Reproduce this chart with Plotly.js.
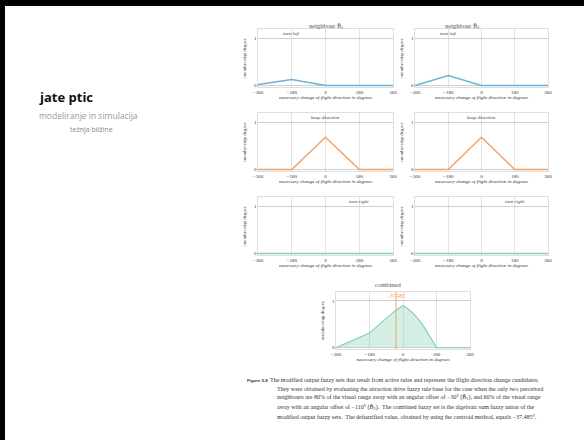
<!DOCTYPE html>
<html><head><meta charset="utf-8">
<script src="https://cdn.plot.ly/plotly-3.0.1.min.js"></script>
<style>html,body{margin:0;padding:0;background:#fff;}#c{width:584px;height:440px;}</style>
</head><body><div id="c"></div>
<script>
// ---- data ----
const xTicks = [-360, -180, 0, 180, 360];
const xTickLabels = ["\u2212360", "\u2212180", "0", "180", "360"];
const yTicks = [0, 1];
const yTickLabels = ["0", "1"];

const leftX = [-360, -180, 0, 360];
const left1Y = [0.02, 0.13, 0, 0];
const left2Y = [0.0, 0.21, 0, 0];

const keepX = [-360, -180, 0, 180, 360];
const keep1Y = [0, 0, 0.68, 0, 0];
const keep2Y = [0, 0, 0.68, 0, 0];

const rightX = [-360, 360];
const right1Y = [0, 0];
const right2Y = [0, 0];

const combX = [-360, -270, -180, -135, -90, -45, 0, 30, 60, 90, 120, 150, 180, 360];
const combY = [0, 0.16, 0.31, 0.47, 0.63, 0.78, 0.90, 0.82, 0.71, 0.57, 0.40, 0.21, 0, 0];

const defuzz = -37.485;
const defuzzLabel = "\u221237.485";

const setLabels = ["turn left", "keep direction", "turn right"];
const setLabelX = [-180, 0, 180];
const titles = ["neighbour B\u0302<sub>1</sub>", "neighbour B\u0302<sub>2</sub>", "combined"];

const captionHead = "Figure 5.8";
const captionLines = [
  "The modified output fuzzy sets that result from active rules and represent the flight direction change candidates.",
  "They were obtained by evaluating the attraction drive fuzzy rule base for the case when the only two perceived",
  "neighbours are 80% of the visual range away with an angular offset of \u221230\u00b0 (B\u0302<sub>1</sub>), and 60% of the visual range",
  "away with an angular offset of \u2212110\u00b0 (B\u0302<sub>2</sub>).  The combined fuzzy set is the algebraic sum fuzzy union of the",
  "modified output fuzzy sets.  The defuzzified value, obtained by using the centroid method, equals \u221237.485\u00b0."
];

// ---- layout helpers ----
const W = 584, H = 440;
const SERIF = "Liberation Serif, DejaVu Serif, serif";
const BLUE = "#6bb3da", ORANGE = "#f4a366", GREEN = "#88d1b3";
const YR = [-0.03, 1.19];

const panels = [
  {x0: 258, x1: 393, top: 29, bot: 87},
  {x0: 415, x1: 548, top: 29, bot: 87},
  {x0: 258, x1: 393, top: 113, bot: 171},
  {x0: 415, x1: 548, top: 113, bot: 171},
  {x0: 258, x1: 393, top: 197, bot: 255},
  {x0: 415, x1: 548, top: 197, bot: 255},
  {x0: 336, x1: 470, top: 292, bot: 349}
];

const layout = {
  width: W, height: H, margin: {l: 0, r: 0, t: 0, b: 0},
  paper_bgcolor: "#fff", plot_bgcolor: "#fff", showlegend: false,
  annotations: [], shapes: []
};

panels.forEach((p, i) => {
  const n = i + 1;
  const xa = n === 1 ? "xaxis" : "xaxis" + n;
  const ya = n === 1 ? "yaxis" : "yaxis" + n;
  layout[xa] = {
    domain: [p.x0 / W, p.x1 / W], anchor: "y" + n, range: [-360, 360],
    tickvals: xTicks, ticktext: xTickLabels, ticks: "", showgrid: true,
    gridcolor: "#dcdcdc", gridwidth: 0.8, zeroline: false,
    showline: true, linecolor: "#c8c8c8", linewidth: 0.6, mirror: true,
    tickfont: {family: SERIF, size: 5, color: "#333"}, ticklabelstandoff: 0,
    title: {text: "<i>necessary change of flight direction in degrees</i>",
            font: {family: SERIF, size: 5, color: "#333"}, standoff: 1},
    fixedrange: true
  };
  layout[ya] = {
    domain: [1 - p.bot / H, 1 - p.top / H], anchor: "x" + n, range: YR,
    tickvals: yTicks, ticktext: yTickLabels, ticks: "", showgrid: true,
    gridcolor: "#b0b0b0", gridwidth: 0.6, zeroline: false,
    showline: true, linecolor: "#c8c8c8", linewidth: 0.6, mirror: true,
    tickfont: {family: SERIF, size: 5, color: "#333"},
    title: {text: "membership degree", font: {family: SERIF, size: 5, color: "#333"}, standoff: 6},
    fixedrange: true
  };
  if (i < 6) {
    const li = Math.floor(i / 2);
    layout.annotations.push({
      xref: "x" + n, yref: "y" + n, x: setLabelX[li], y: 1.1, text: "<i>" + setLabels[li] + "</i>",
      showarrow: false, font: {family: SERIF, size: 5, color: "#444"}
    });
  }
});

// titles
layout.annotations.push({xref: "paper", yref: "paper", x: 326 / W, y: 1 - 20 / H, text: titles[0], showarrow: false, font: {family: SERIF, size: 6.5, color: "#555"}});
layout.annotations.push({xref: "paper", yref: "paper", x: 482 / W, y: 1 - 20 / H, text: titles[1], showarrow: false, font: {family: SERIF, size: 6.5, color: "#555"}});
layout.annotations.push({xref: "paper", yref: "paper", x: 403 / W, y: 1 - 284 / H, text: titles[2], showarrow: false, font: {family: SERIF, size: 6.5, color: "#555"}});
// defuzz label
layout.annotations.push({xref: "x7", yref: "y7", x: defuzz, y: 1.1, text: defuzzLabel, showarrow: false, font: {family: SERIF, size: 5.5, color: ORANGE}});

// caption
layout.annotations.push({xref: "paper", yref: "paper", x: 245 / W, y: 1 - 385 / H, xanchor: "left", text: "<b>" + captionHead + "</b>", showarrow: false, font: {family: "Liberation Sans, sans-serif", size: 4.4, color: "#333"}});
captionLines.forEach((t, k) => {
  layout.annotations.push({
    xref: "paper", yref: "paper", x: (k === 0 ? 268 : 275) / W, y: 1 - (385 + k * 9.2) / H,
    xanchor: "left", text: t, showarrow: false, font: {family: SERIF, size: 6, color: "#333"}
  });
});

// slide texts
layout.annotations.push({xref: "paper", yref: "paper", x: 37 / W, y: 1 - 86 / H, xanchor: "left", text: "<b>jate ptic</b>", showarrow: false, font: {family: "Open Sans, sans-serif", size: 13, color: "#111"}});
layout.annotations.push({xref: "paper", yref: "paper", x: 37 / W, y: 1 - 108 / H, xanchor: "left", text: "modeliranje in simulacija", showarrow: false, font: {family: "Open Sans, sans-serif", size: 8.5, color: "#999"}});
layout.annotations.push({xref: "paper", yref: "paper", x: 68 / W, y: 1 - 123 / H, xanchor: "left", text: "težnja bližine", showarrow: false, font: {family: "Open Sans, sans-serif", size: 7, color: "#888"}});

// slide frame
layout.shapes.push({type: "rect", xref: "paper", yref: "paper", x0: 0, x1: 1, y0: 1 - 6 / H, y1: 1, fillcolor: "#000", line: {width: 0}});
layout.shapes.push({type: "rect", xref: "paper", yref: "paper", x0: 0, x1: 5 / W, y0: 0, y1: 1, fillcolor: "#000", line: {width: 0}});

const line = (x, y, n, c) => ({x: x, y: y, xaxis: "x" + n, yaxis: "y" + n, mode: "lines", line: {color: c, width: 1.5}, hoverinfo: "skip"});

const data = [
  line(leftX, left1Y, 1, BLUE),
  line(leftX, left2Y, 2, BLUE),
  line(keepX, keep1Y, 3, ORANGE),
  line(keepX, keep2Y, 4, ORANGE),
  line(rightX, right1Y, 5, GREEN),
  line(rightX, right2Y, 6, GREEN),
  Object.assign(line(combX, combY, 7, GREEN), {fill: "tozeroy", fillcolor: "rgba(136,209,179,0.35)", line: {color: GREEN, width: 1.2}}),
  {x: [defuzz, defuzz], y: [YR[0], YR[1]], xaxis: "x7", yaxis: "y7", mode: "lines", line: {color: ORANGE, width: 1}, hoverinfo: "skip"}
];

Plotly.newPlot("c", data, layout, {staticPlot: true, displayModeBar: false});
</script></body></html>
